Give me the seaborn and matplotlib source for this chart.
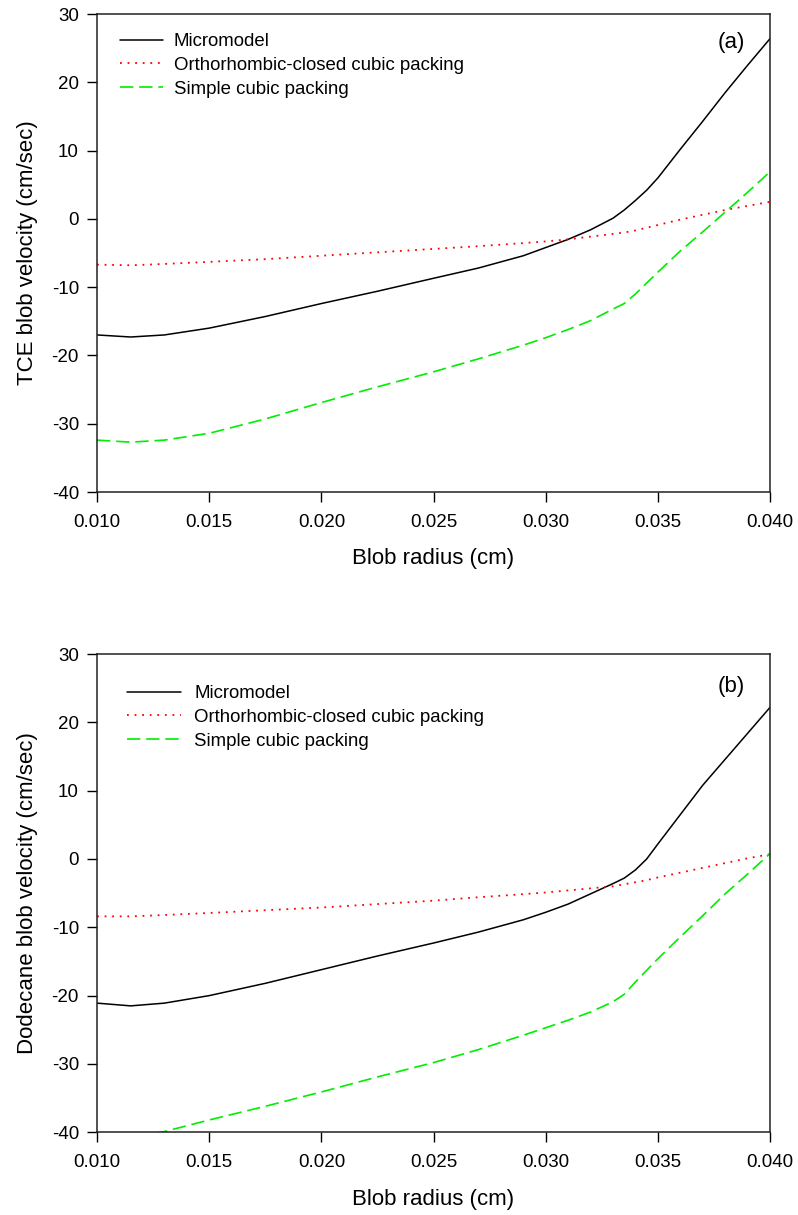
import matplotlib
matplotlib.use("Agg")
import matplotlib.pyplot as plt
import seaborn as sns
import numpy as np

# ---- data ----
radius = [0.010, 0.0115, 0.013, 0.015, 0.0175, 0.020, 0.0225, 0.025, 0.027, 0.029, 0.030,
          0.031, 0.032, 0.033, 0.0335, 0.034, 0.0345, 0.035, 0.036, 0.037, 0.038, 0.039, 0.040]

tce_micromodel = [-17.0, -17.3, -17.0, -16.0, -14.3, -12.4, -10.6, -8.7, -7.2, -5.4, -4.2,
                  -3.0, -1.6, 0.1, 1.3, 2.7, 4.2, 6.0, 10.2, 14.3, 18.5, 22.5, 26.4]
tce_ortho = [-6.7, -6.8, -6.6, -6.3, -5.9, -5.4, -4.9, -4.4, -4.0, -3.55, -3.3,
             -3.0, -2.6, -2.2, -2.0, -1.7, -1.3, -0.9, -0.1, 0.6, 1.3, 1.9, 2.5]
tce_simple = [-32.4, -32.7, -32.4, -31.4, -29.3, -26.9, -24.6, -22.4, -20.5, -18.5, -17.4,
              -16.2, -14.9, -13.2, -12.4, -11.0, -9.4, -7.8, -4.7, -1.9, 1.0, 3.9, 6.9]

dod_micromodel = [-21.1, -21.5, -21.1, -20.0, -18.2, -16.2, -14.2, -12.3, -10.7, -8.9, -7.8,
                  -6.6, -5.1, -3.6, -2.8, -1.6, 0.0, 2.2, 6.5, 10.8, 14.6, 18.4, 22.2]
dod_ortho = [-8.4, -8.4, -8.2, -7.9, -7.5, -7.1, -6.6, -6.1, -5.6, -5.15, -4.9,
             -4.6, -4.3, -4.0, -3.7, -3.4, -3.1, -2.7, -2.0, -1.3, -0.6, 0.1, 0.7]
dod_simple = [-40.6, -40.8, -39.9, -38.2, -36.2, -34.1, -31.9, -29.8, -27.9, -25.8, -24.7,
              -23.6, -22.4, -20.9, -19.8, -18.0, -16.3, -14.6, -11.4, -8.3, -5.1, -2.2, 0.8]

series_labels = ["Micromodel", "Orthorhombic-closed cubic packing", "Simple cubic packing"]
xticks = [0.010, 0.015, 0.020, 0.025, 0.030, 0.035, 0.040]
xtick_labels = ["0.010", "0.015", "0.020", "0.025", "0.030", "0.035", "0.040"]
yticks = [-40, -30, -20, -10, 0, 10, 20, 30]
ylabels = ["TCE blob velocity (cm/sec)", "Dodecane blob velocity (cm/sec)"]
xlabel = "Blob radius (cm)"
panel_tags = ["(a)", "(b)"]

sns.set_theme(style="ticks")
plt.rcParams["font.family"] = ["Liberation Sans", "DejaVu Sans"]
plt.rcParams["axes.unicode_minus"] = False
plt.rcParams["text.color"] = "black"
plt.rcParams["axes.labelcolor"] = "black"

fig = plt.figure(figsize=(7.98, 12.15), dpi=100)
ax_a = fig.add_axes([0.1216, 0.59506, 0.8434, 0.3934])
ax_b = fig.add_axes([0.1216, 0.0681, 0.8434, 0.3936])

styles = [
    dict(color="black", linestyle="-", linewidth=1.1),
    dict(color="#ff0000", linestyle=(0, (1, 3.2)), linewidth=1.3),
    dict(color="#00ee00", linestyle=(0, (8, 3.5)), linewidth=1.2),
]

panels = [
    (ax_a, [tce_micromodel, tce_ortho, tce_simple], ylabels[0], panel_tags[0],
     (0.034, 0.960), 2.3, 0.6, 0.940),
    (ax_b, [dod_micromodel, dod_ortho, dod_simple], ylabels[1], panel_tags[1],
     (0.0446, 0.935), 2.9, 0.7, 0.932),
]

for ax, ys, ylab, tag, legpos, hlen, hpad, tagy in panels:
    for vals, lab, st in zip(ys, series_labels, styles):
        sns.lineplot(x=radius, y=vals, ax=ax, label=lab, sort=False,
                     estimator=None, **st)
    ax.set_xlim(0.010, 0.040)
    ax.set_ylim(-40, 30)
    ax.set_xticks(xticks)
    ax.set_xticklabels(xtick_labels)
    ax.set_yticks(yticks)
    ax.tick_params(axis="both", direction="out", length=7, width=1.0,
                   labelsize=13.5, colors="black", labelcolor="black", pad=6)
    ax.tick_params(axis="x", pad=8.5)
    for sp in ax.spines.values():
        sp.set_visible(True)
        sp.set_linewidth(1.1)
        sp.set_color("#222222")
    ax.set_xlabel(xlabel, fontsize=16)
    ax.set_ylabel(ylab, fontsize=16)
    ax.yaxis.set_label_coords(-0.087, 0.5)
    ax.xaxis.set_label_coords(0.5, -0.118)
    ax.text(0.963, tagy, tag, transform=ax.transAxes, ha="right", va="center",
            fontsize=16)
    leg = ax.legend(loc="upper left", bbox_to_anchor=legpos, frameon=False,
                    fontsize=13.4, handlelength=hlen, handletextpad=hpad,
                    labelspacing=0.36, borderpad=0, borderaxespad=0)
    ax.grid(False)

fig.savefig("out.png", dpi=100)
